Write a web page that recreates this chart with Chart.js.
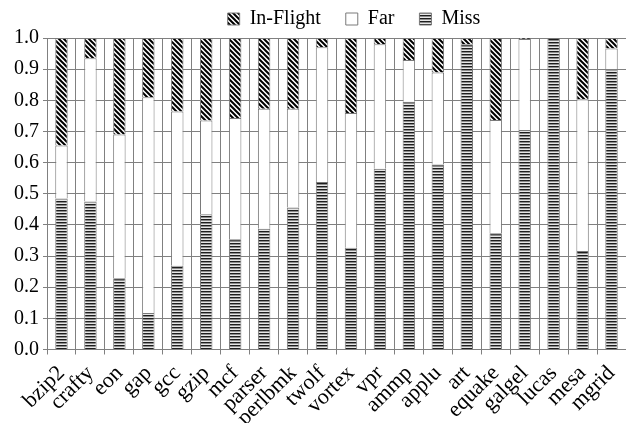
<!DOCTYPE html>
<html lang="en">
<head>
    <meta charset="UTF-8">
    <title>Miss / Far / In-Flight</title>
    <style>
        html, body { margin: 0; padding: 0; background: #fff; }
        .chart-container { position: relative; width: 626px; height: 423px; }
    </style>
</head>
<body>
    <div class="chart-container">
        <canvas id="missChart"></canvas>
    </div>

    <script src="https://cdn.jsdelivr.net/npm/chart.js"></script>
    <script>
        const categories = ['bzip2', 'crafty', 'eon', 'gap', 'gcc', 'gzip', 'mcf', 'parser', 'perlbmk', 'twolf',
                            'vortex', 'vpr', 'ammp', 'applu', 'art', 'equake', 'galgel', 'lucas', 'mesa', 'mgrid'];
        const missValues = [0.485, 0.475, 0.229, 0.117, 0.269, 0.434, 0.354, 0.388, 0.456, 0.538,
                            0.327, 0.580, 0.795, 0.594, 0.980, 0.373, 0.705, 1.000, 0.316, 0.900];
        const farValues = [0.170, 0.460, 0.461, 0.693, 0.495, 0.301, 0.389, 0.385, 0.317, 0.432,
                           0.432, 0.400, 0.134, 0.295, 0.000, 0.364, 0.292, 0.000, 0.487, 0.066];
        const inFlightValues = [0.345, 0.065, 0.310, 0.190, 0.236, 0.265, 0.257, 0.227, 0.227, 0.030,
                                0.241, 0.020, 0.071, 0.111, 0.020, 0.263, 0.003, 0.000, 0.197, 0.034];
        const yTicks = [0.0, 0.1, 0.2, 0.3, 0.4, 0.5, 0.6, 0.7, 0.8, 0.9, 1.0];

        // fill patterns like the old black & white print
        function makePattern(w, h, paint) {
            const c = document.createElement('canvas');
            c.width = w;
            c.height = h;
            const g = c.getContext('2d');
            paint(g);
            return g.createPattern(c, 'repeat');
        }

        const missPattern = makePattern(1, 3, g => {
            g.fillStyle = '#1e1e1e'; g.fillRect(0, 0, 1, 1);
            g.fillStyle = '#8c8c8c'; g.fillRect(0, 1, 1, 1);
            g.fillStyle = '#e6e6e6'; g.fillRect(0, 2, 1, 1);
        });

        const flightPattern = makePattern(5, 5, g => {
            g.fillStyle = '#fff';
            g.fillRect(0, 0, 5, 5);
            g.strokeStyle = '#000';
            g.lineWidth = 2;
            g.beginPath();
            g.moveTo(-1, -1); g.lineTo(6, 6);
            g.moveTo(-6, -1); g.lineTo(1, 6);
            g.moveTo(4, -1); g.lineTo(11, 6);
            g.stroke();
        });

        // nudge legend to where the original has it (bottom stays, so nothing is clipped)
        const legendShift = {
            id: 'legendShift',
            afterLayout(chart) {
                const lg = chart.legend;
                lg.left += 36; lg.right += 36;
                lg.top -= 16;
            }
        };

        const font = { family: '"Liberation Serif", "Times New Roman", serif', size: 20 };
        const xFont = { family: '"Liberation Serif", "Times New Roman", serif', size: 22 };

        new Chart(document.getElementById('missChart').getContext('2d'), {
            type: 'bar',
            data: {
                labels: categories,
                datasets: [
                    { label: 'Miss', data: missValues, backgroundColor: missPattern },
                    { label: 'Far', data: farValues, backgroundColor: '#ffffff' },
                    { label: 'In-Flight', data: inFlightValues, backgroundColor: flightPattern }
                ]
            },
            options: {
                responsive: true,
                maintainAspectRatio: false,
                animation: false,
                layout: { padding: { left: 10, right: 0, top: 0, bottom: -14 } },
                datasets: {
                    bar: {
                        borderColor: '#7a7a7a',
                        borderWidth: 1,
                        barPercentage: 0.43,
                        categoryPercentage: 1.0
                    }
                },
                plugins: {
                    tooltip: { enabled: false },
                    legend: {
                        position: 'top',
                        reverse: true,
                        maxHeight: 38,
                        labels: {
                            color: '#000',
                            font: font,
                            boxWidth: 12,
                            boxHeight: 12,
                            padding: 25
                        }
                    }
                },
                scales: {
                    x: {
                        stacked: true,
                        // plot runs right up to the window edge in the original
                        afterFit(scale) { scale.paddingRight = 0; },
                        grid: { color: '#808080', lineWidth: 1, tickLength: 5, offset: true },
                        border: { color: '#808080' },
                        ticks: {
                            color: '#000',
                            font: xFont,
                            minRotation: 45,
                            maxRotation: 45,
                            autoSkip: false,
                            padding: 6
                        }
                    },
                    y: {
                        stacked: true,
                        min: 0,
                        max: 1,
                        afterBuildTicks(scale) {
                            scale.ticks = yTicks.map(v => ({ value: v }));
                        },
                        grid: { color: '#808080', lineWidth: 1, tickLength: 4 },
                        border: { color: '#808080' },
                        ticks: {
                            color: '#000',
                            font: font,
                            padding: 4,
                            callback: v => Number(v).toFixed(1)
                        }
                    }
                }
            },
            plugins: [legendShift]
        });
    </script>
</body>
</html>
